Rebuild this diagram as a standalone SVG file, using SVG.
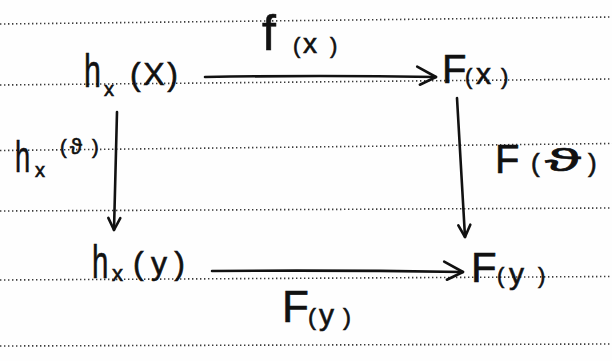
<svg xmlns="http://www.w3.org/2000/svg" width="612" height="361" viewBox="0 0 612 361">
  <defs>
    <style>
      .rule { stroke: #3a3a3a; stroke-width: 1.6; stroke-dasharray: 1.4 2.6; fill: none; }
      .ink { font-family: "Liberation Sans", "DejaVu Sans", sans-serif; fill: #111; stroke: #111; stroke-width: 0.6; }
      .edge { stroke: #111; stroke-width: 2.6; fill: none; stroke-linecap: round; }
      .head { stroke: #111; stroke-width: 2.6; fill: none; stroke-linecap: round; stroke-linejoin: round; }
    </style>
    <marker id="headH" markerUnits="userSpaceOnUse" viewBox="-24 -14 28 28" refX="0" refY="0" markerWidth="28" markerHeight="28" orient="auto">
      <path class="head" d="M-19,-10 L0,0 L-16,8"/>
    </marker>
    <marker id="headV" markerUnits="userSpaceOnUse" viewBox="-16 -10 20 20" refX="0" refY="0" markerWidth="20" markerHeight="20" orient="auto">
      <path class="head" d="M-12,-6 L0,0 L-12,6"/>
    </marker>
  </defs>
  <rect width="612" height="361" fill="#fefefe"/>

  <g id="ruled-lines">
    <line class="rule" x1="0" y1="24" x2="612" y2="17"/>
    <line class="rule" x1="0" y1="85" x2="612" y2="79"/>
    <line class="rule" x1="0" y1="150.5" x2="612" y2="143.5"/>
    <line class="rule" x1="0" y1="211" x2="612" y2="208"/>
    <line class="rule" x1="0" y1="280" x2="612" y2="276.5"/>
    <line class="rule" x1="0" y1="346" x2="612" y2="344"/>
  </g>

  <g id="connectors">
    <path class="edge" d="M205,77 Q320,75 436,77" marker-end="url(#headH)"/>
    <path class="edge" d="M212,271 Q340,270 463,272" marker-end="url(#headH)"/>
    <path class="edge" d="M117,112 L114,230" marker-end="url(#headV)"/>
    <path class="edge" d="M457,98 L465,237" marker-end="url(#headV)"/>
    <text class="ink"><tspan x="262" y="50" font-size="50">f</tspan><tspan x="293" y="53" font-size="22">(</tspan><tspan x="303" y="53" font-size="28">x</tspan><tspan x="330" y="53" font-size="22">)</tspan></text>
    <text class="ink"><tspan x="282" y="322" font-size="44">F</tspan><tspan x="308" y="325" font-size="24">(</tspan><tspan x="319" y="325" font-size="30">y</tspan><tspan x="343" y="325" font-size="24">)</tspan></text>
    <g>
      <text class="ink" font-size="44" transform="translate(15,172) scale(0.62,1)">h</text>
      <text class="ink"><tspan x="35" y="177" font-size="20">x</tspan><tspan x="60" y="154" font-size="20">(</tspan><tspan x="70" y="154" font-size="22">ϑ</tspan><tspan x="92" y="154" font-size="20">)</tspan></text>
    </g>
    <text class="ink"><tspan x="495" y="173" font-size="40">F</tspan><tspan x="531" y="172" font-size="26">(</tspan><tspan x="545" y="171" font-size="32" textLength="36" lengthAdjust="spacingAndGlyphs">ϑ</tspan><tspan x="588" y="172" font-size="26">)</tspan></text>
  </g>

  <g id="node-hX-X">
    <text class="ink" font-size="46" transform="translate(84,87) scale(0.66,1)">h</text>
    <text class="ink"><tspan x="104" y="96" font-size="20">x</tspan><tspan x="130" y="85" font-size="32" textLength="48">(X)</tspan></text>
  </g>
  <g id="node-F-X">
    <text class="ink"><tspan x="442" y="83" font-size="40">F</tspan><tspan x="465" y="84" font-size="22">(</tspan><tspan x="476" y="84" font-size="30">x</tspan><tspan x="501" y="84" font-size="22">)</tspan></text>
  </g>
  <g id="node-hX-Y">
    <text class="ink" font-size="46" transform="translate(92,278) scale(0.64,1)">h</text>
    <text class="ink"><tspan x="112" y="281" font-size="22">x</tspan><tspan x="133" y="274" font-size="32" textLength="52">(y)</tspan></text>
  </g>
  <g id="node-F-Y">
    <text class="ink"><tspan x="471" y="282" font-size="42">F</tspan><tspan x="497" y="283" font-size="22">(</tspan><tspan x="509" y="284" font-size="30">y</tspan><tspan x="538" y="283" font-size="22">)</tspan></text>
  </g>
</svg>
